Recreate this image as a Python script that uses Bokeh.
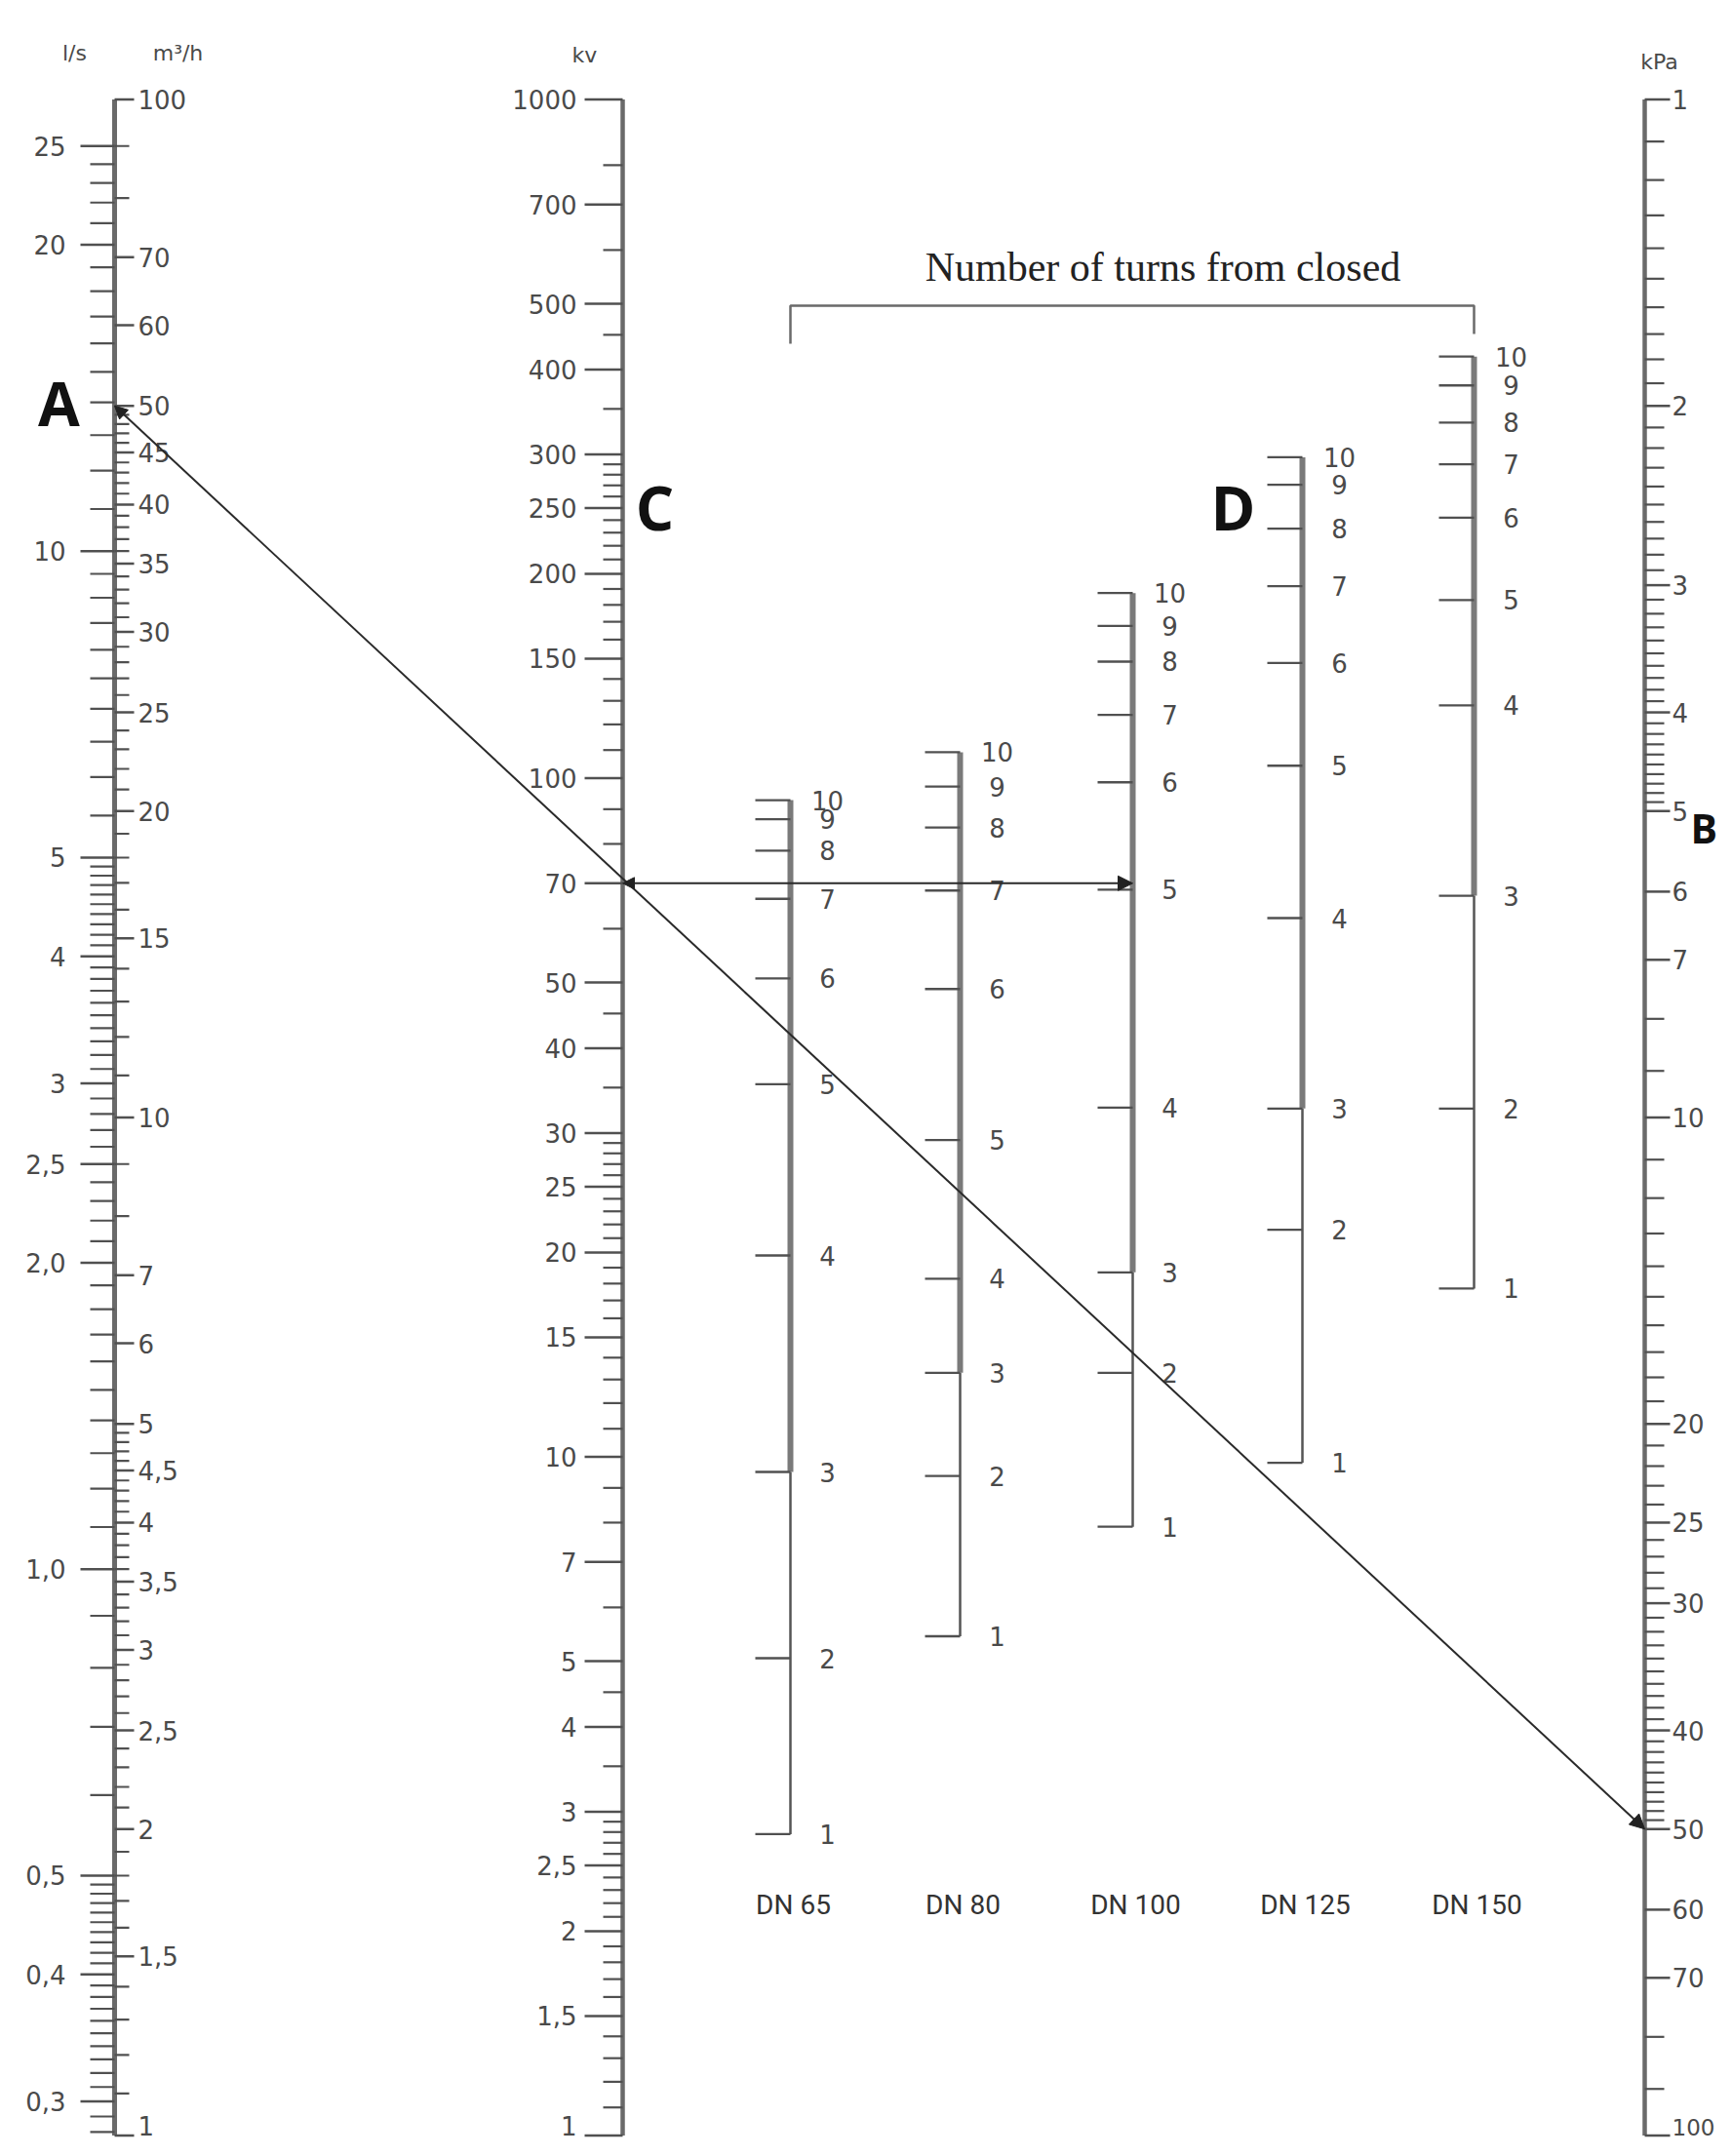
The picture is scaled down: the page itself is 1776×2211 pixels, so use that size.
import math
from bokeh.plotting import figure
from bokeh.models import Range1d, LogScale, Arrow, NormalHead
from bokeh.core.properties import value
from bokeh.embed import file_html
from bokeh.resources import INLINE

# ---------------- data ----------------
M3H_MAJOR = [100, 70, 60, 50, 45, 40, 35, 30, 25, 20, 15, 10, 7, 6, 5, 4.5, 4, 3.5, 3, 2.5, 2, 1.5, 1]
M3H_TEXT = ["100", "70", "60", "50", "45", "40", "35", "30", "25", "20", "15", "10", "7", "6", "5",
            "4,5", "4", "3,5", "3", "2,5", "2", "1,5", "1"]
LS_MAJOR = [25, 20, 10, 5, 4, 3, 2.5, 2.0, 1.0, 0.5, 0.4, 0.3]
LS_TEXT = ["25", "20", "10", "5", "4", "3", "2,5", "2,0", "1,0", "0,5", "0,4", "0,3"]
KV_MAJOR = [1000, 700, 500, 400, 300, 250, 200, 150, 100, 70, 50, 40, 30, 25, 20, 15, 10, 7, 5, 4, 3, 2.5, 2, 1.5, 1]
KV_TEXT = ["1000", "700", "500", "400", "300", "250", "200", "150", "100", "70", "50", "40", "30", "25",
           "20", "15", "10", "7", "5", "4", "3", "2,5", "2", "1,5", "1"]
KV_MINOR = [1.1, 1.2, 1.3, 1.4, 1.6, 1.7, 1.8, 1.9, 2.1, 2.2, 2.3, 2.4, 2.6, 2.7, 2.8, 2.9, 3.5, 4.5, 6, 8, 9,
            11, 12, 13, 14, 16, 17, 18, 19, 21, 22, 23, 24, 26, 27, 28, 29, 35, 45, 60, 80, 90,
            110, 120, 130, 140, 160, 170, 180, 190, 210, 220, 230, 240, 260, 270, 280, 290, 350, 450, 600, 800]
KPA_MAJOR = [1, 2, 3, 4, 5, 6, 7, 10, 20, 25, 30, 40, 50, 60, 70, 100]
KPA_TEXT = ["1", "2", "3", "4", "5", "6", "7", "10", "20", "25", "30", "40", "50", "60", "70", "100"]

# graduation definitions of the scales: (from, to, step)
LS_GRAD = [(20, 25, 1), (10, 20, 1), (5, 10, 0.5), (2, 5, 0.1), (1, 2, 0.1), (0.5, 1, 0.1),
           (0.3, 0.5, 0.01), (0.27, 0.3, 0.01)]
M3H_GRAD = [(70, 100, 10), (20, 50, 1), (10, 20, 1), (7, 10, 1), (1, 5, 0.1)]
KPA_GRAD = [(1, 5, 0.1), (7, 10, 1), (10, 50, 1), (70, 100, 10)]

TURNS = [1, 2, 3, 4, 5, 6, 7, 8, 9, 10]
VALVES = ["DN 65", "DN 80", "DN 100", "DN 125", "DN 150"]
DN65_KV = [2.78, 5.05, 9.5, 19.8, 35.4, 50.7, 66.4, 78.2, 87.0, 92.8]
DN80_KV = [5.44, 9.37, 13.3, 18.3, 29.3, 48.9, 68.3, 84.6, 97.2, 109.2]
DN100_KV = [7.89, 13.3, 18.7, 32.7, 68.5, 98.6, 123.9, 148.5, 167.6, 187.4]
DN125_KV = [9.8, 21.6, 32.6, 62.2, 104.3, 147.8, 191.8, 233.2, 270.5, 297.0]
DN150_KV = [17.7, 32.6, 67.1, 128.0, 183.0, 242.0, 290.0, 334.0, 379.0, 418.0]
VALVE_KV = [DN65_KV, DN80_KV, DN100_KV, DN125_KV, DN150_KV]

EX_FLOW = 50      # m3/h  (A)
EX_DP = 50        # kPa   (B)
EX_KV = 70        # kv    (C)
EX_VALVE = 2      # index of DN 100

TITLE = "Number of turns from closed"


def grads(spec, majors):
    out = []
    for a, b, s in spec:
        n = int(round((b - a) / s))
        for i in range(1, n):
            v = round(a + i * s, 4)
            if all(abs(v - m) > 1e-6 for m in majors):
                out.append(v)
    return out


LS_MINOR = grads(LS_GRAD, LS_MAJOR)
M3H_MINOR = grads(M3H_GRAD, M3H_MAJOR)
KPA_MINOR = grads(KPA_GRAD, KPA_MAJOR)

# ---------------- layout (pixel frame) ----------------
W, H = 1760, 2195
X0, X1 = 0, W
Y0, Y1 = 0, H
FLOW_X, KV_X, KPA_X = 117, 638, 1686
DN_X = [810, 984, 1161, 1335, 1511]
TOP_Y = 101.5
DEC = 1044.0

# scale geometry: (anchor value, anchor y, px per decade, increasing upward?)
M3H_G = (100, TOP_Y, DEC, True)
LS_G = (100 / 3.6, TOP_Y, DEC, True)
KV_G = (1000, TOP_Y, DEC * 2 / 3, True)
KPA_G = (1, TOP_Y, DEC, False)


def log_range(g):
    va, ya, d, up = g
    la = math.log10(va)
    s = 1 if up else -1
    top = la + s * (ya - Y0) / d
    bot = la - s * (Y1 - ya) / d
    return Range1d(start=10 ** bot, end=10 ** top)


def to_layout(v, g):
    va, ya, d, up = g
    dl = math.log10(v) - math.log10(va)
    return ya - dl * d if up else ya + dl * d


p = figure(width=W, height=H, x_range=Range1d(X0, X1), y_range=Range1d(Y1, Y0),
           x_axis_type=None, y_axis_type=None, output_backend="svg", toolbar_location=None,
           min_border=0, outline_line_color=None, background_fill_color="white",
           border_fill_color="white")
p.min_border_left = p.min_border_right = p.min_border_top = p.min_border_bottom = 0
p.extra_y_ranges = {"m3h": log_range(M3H_G), "ls": log_range(LS_G),
                    "kv": log_range(KV_G), "kpa": log_range(KPA_G)}
p.extra_y_scales = {"m3h": LogScale(), "ls": LogScale(), "kv": LogScale(), "kpa": LogScale()}

TICK_C = "#505050"
AXIS_C = "#6a6a6a"
LAB_C = "#4a4a4a"
FONT = value("DejaVu Sans")
FS = "26px"


def labels(x, vals, texts, rng, align, last_size=FS):
    # the lowest label of a scale sits on its tick so that it stays inside the page
    lo = vals.index(min(vals)) if rng != "kpa" else vals.index(max(vals))
    mid_v = [v for i, v in enumerate(vals) if i != lo]
    mid_t = [t for i, t in enumerate(texts) if i != lo]
    p.text(x=x, y=mid_v, text=mid_t, y_range_name=rng, text_font=FONT, text_font_size=FS,
           text_align=align, text_baseline="middle", text_color=LAB_C)
    p.text(x=x, y=[vals[lo]], text=[texts[lo]], y_range_name=rng, text_font=FONT,
           text_font_size=last_size, text_align=align, text_baseline="bottom", text_color=LAB_C)


# ---- flow scale (l/s left, m3/h right) ----
p.segment(x0=FLOW_X, y0=min(M3H_MAJOR), x1=FLOW_X, y1=max(M3H_MAJOR), y_range_name="m3h",
          line_color=AXIS_C, line_width=5)
p.segment(x0=FLOW_X - 35, y0=LS_MAJOR, x1=FLOW_X, y1=LS_MAJOR, y_range_name="ls",
          line_color=TICK_C, line_width=2.5)
p.segment(x0=FLOW_X - 25, y0=LS_MINOR, x1=FLOW_X, y1=LS_MINOR, y_range_name="ls",
          line_color=TICK_C, line_width=2.2)
p.segment(x0=FLOW_X, y0=M3H_MAJOR, x1=FLOW_X + 20, y1=M3H_MAJOR, y_range_name="m3h",
          line_color=TICK_C, line_width=2.5)
p.segment(x0=FLOW_X, y0=M3H_MINOR, x1=FLOW_X + 15, y1=M3H_MINOR, y_range_name="m3h",
          line_color=TICK_C, line_width=2.2)
p.text(x=FLOW_X - 50, y=LS_MAJOR, text=LS_TEXT, y_range_name="ls", text_font=FONT,
       text_font_size=FS, text_align="right", text_baseline="middle", text_color=LAB_C)
labels(FLOW_X + 24, M3H_MAJOR, M3H_TEXT, "m3h", "left")

# ---- kv scale ----
p.segment(x0=KV_X, y0=min(KV_MAJOR), x1=KV_X, y1=max(KV_MAJOR), y_range_name="kv",
          line_color=AXIS_C, line_width=4.5)
p.segment(x0=KV_X - 39, y0=KV_MAJOR, x1=KV_X, y1=KV_MAJOR, y_range_name="kv",
          line_color=TICK_C, line_width=2.5)
p.segment(x0=KV_X - 20, y0=KV_MINOR, x1=KV_X, y1=KV_MINOR, y_range_name="kv",
          line_color=TICK_C, line_width=2.2)
labels(KV_X - 47, KV_MAJOR, KV_TEXT, "kv", "right")

# ---- kPa scale ----
p.segment(x0=KPA_X, y0=min(KPA_MAJOR), x1=KPA_X, y1=max(KPA_MAJOR), y_range_name="kpa",
          line_color=AXIS_C, line_width=4.5)
p.segment(x0=KPA_X, y0=KPA_MAJOR, x1=KPA_X + 26, y1=KPA_MAJOR, y_range_name="kpa",
          line_color=TICK_C, line_width=2.5)
p.segment(x0=KPA_X, y0=KPA_MINOR, x1=KPA_X + 20, y1=KPA_MINOR, y_range_name="kpa",
          line_color=TICK_C, line_width=2.2)
labels(KPA_X + 28, KPA_MAJOR, KPA_TEXT, "kpa", "left", last_size="23px")

# ---- valve scales ----
turn_text = [str(t) for t in TURNS]
for xv, kvs in zip(DN_X, VALVE_KV):
    p.segment(x0=xv, y0=kvs[0], x1=xv, y1=kvs[2], y_range_name="kv",
              line_color="#555555", line_width=2.5)
    p.segment(x0=xv, y0=kvs[2], x1=xv, y1=kvs[-1], y_range_name="kv",
              line_color="#7a7a7a", line_width=6)
    p.segment(x0=xv - 36, y0=kvs, x1=xv, y1=kvs, y_range_name="kv",
              line_color=TICK_C, line_width=2.3)
    p.text(x=xv + 38, y=kvs, text=turn_text, y_range_name="kv", text_font=FONT,
           text_font_size=FS, text_align="center", text_baseline="middle", text_color=LAB_C)

p.text(x=[x + 3 for x in DN_X], y=1953, text=VALVES, text_font=value("Roboto"),
       text_font_size="28px", text_align="center", text_baseline="middle", text_color="#333333")

# ---- title bracket ----
p.text(x=1192, y=273, text=[TITLE], text_font=value("Liberation Serif"), text_font_size="42px",
       text_align="center", text_baseline="middle", text_color="#222222")
p.line(x=[DN_X[0], DN_X[0], DN_X[-1], DN_X[-1]], y=[352, 313, 313, 342],
       line_color="#6a6a6a", line_width=2.5)

# ---- unit labels ----
p.text(x=[76, 182, 599, 1701], y=[54, 54, 56, 63], text=["l/s", "m³/h", "kv", "kPa"],
       text_font=FONT, text_font_size="22px", text_align="center", text_baseline="middle",
       text_color=LAB_C)

# ---- letters ----
p.text(x=[60, 671, 1264], y=[412, 519, 519], text=["A", "C", "D"], text_font=value("Open Sans"),
       text_font_style="bold", text_font_size="62px", text_align="center", text_baseline="middle",
       text_color="#111111")
p.text(x=[1733], y=[848], text=["B"], text_font=value("Open Sans"), text_font_style="bold",
       text_font_size="41px", text_align="left", text_baseline="middle", text_color="#111111")

# ---- construction lines ----
ya = to_layout(EX_FLOW, M3H_G)
yb = to_layout(EX_DP, KPA_G)
yk = to_layout(EX_KV, KV_G)
p.add_layout(Arrow(start=NormalHead(size=13, fill_color="#222222", line_color="#222222"),
                   end=NormalHead(size=15, fill_color="#222222", line_color="#222222"),
                   x_start=FLOW_X, y_start=ya, x_end=KPA_X, y_end=yb,
                   line_color="#2a2a2a", line_width=2))
p.add_layout(Arrow(start=NormalHead(size=12, fill_color="#222222", line_color="#222222"),
                   end=NormalHead(size=15, fill_color="#222222", line_color="#222222"),
                   x_start=KV_X, y_start=yk, x_end=DN_X[EX_VALVE], y_end=yk,
                   line_color="#2a2a2a", line_width=2))

open("out.html", "w").write(file_html(p, INLINE))
